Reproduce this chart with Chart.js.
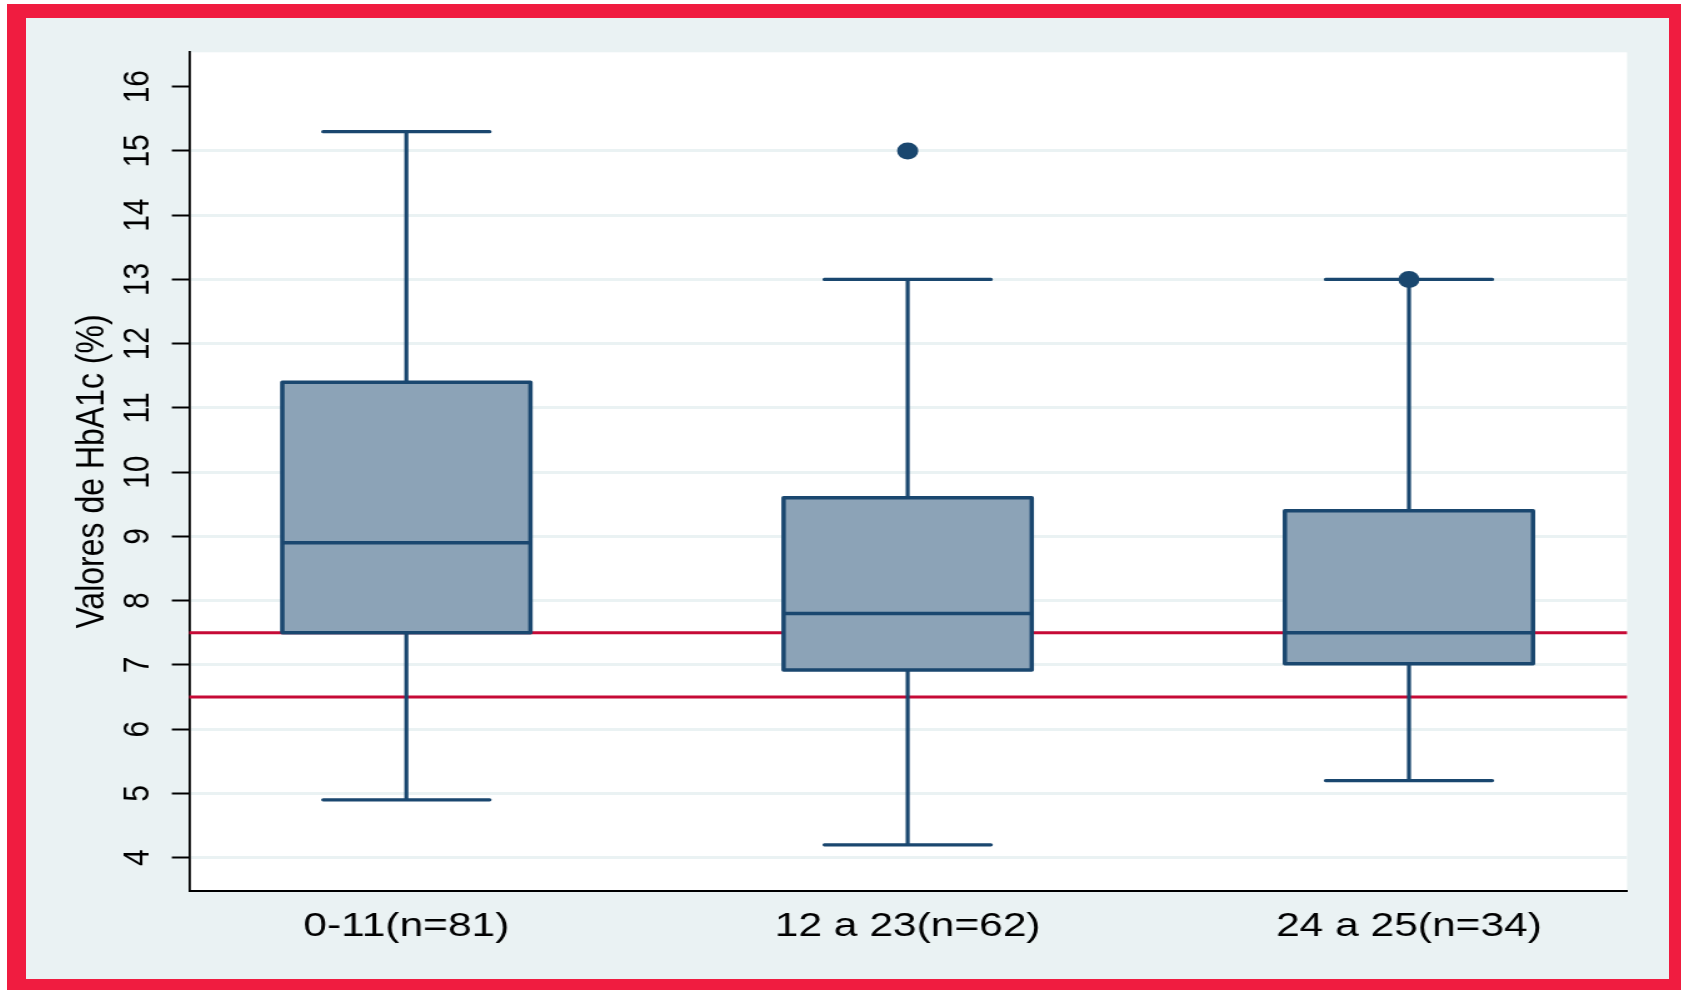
<!DOCTYPE html>
<html lang="pt">
<head>
<meta charset="utf-8">
<title>Valores de HbA1c por faixa</title>
<script src="https://cdn.jsdelivr.net/npm/chart.js@4.4.1/dist/chart.umd.min.js"></script>
<style>
  html, body { margin: 0; padding: 0; background: #fff; overflow: hidden; }
  .moldura {
    position: absolute; left: 7px; top: 4px;
    width: 1674px; height: 986px;
    box-sizing: border-box;
    border-style: solid; border-color: #f01c40;
    border-width: 14px 12px 11px 19px;
    background: #eaf2f3;
  }
  /* o gráfico original está esticado na horizontal */
  .grafico {
    position: absolute; left: 0; top: 0;
    width: 1314px; height: 961px;
    transform: scaleX(1.2504); transform-origin: 0 0;
  }
</style>
</head>
<body>
<div class="moldura">
  <div class="grafico"><canvas id="grafico-hba1c"></canvas></div>
</div>
<script>
// ===== DADOS =====
const categorias = ["0-11(n=81)", "12 a 23(n=62)", "24 a 25(n=34)"];
const minimos   = [4.9, 4.2, 5.2];
const quartil1  = [7.5, 6.92, 7.02];
const medianas  = [8.9, 7.8, 7.5];
const quartil3  = [11.4, 9.6, 9.4];
const maximos   = [15.3, 13.0, 13.0];
const atipicos  = [[], [15.0], [13.0]];
const linhasRef = [7.5, 6.5];
const ticksY    = [4, 5, 6, 7, 8, 9, 10, 11, 12, 13, 14, 15, 16];

// ===== CORES =====
const AZUL = "#1a476f";
const CAIXA = "#8ca3b7";
const VERMELHO = "#c60a36";
const GRADE = "#eaf2f3";
const MEIA_HASTE = 0.166; // metade da largura da haste do bigode (unidades do eixo x)

Chart.defaults.font.family = "'Liberation Sans', Arial, sans-serif";

// ===== PLUGIN: fundo, linhas de referência, bigodes, contorno e medianas =====
const boxplotPlugin = {
  id: "boxplot",
  beforeDraw(chart) {
    const { ctx, chartArea: a } = chart;
    ctx.save();
    ctx.fillStyle = "#fff";
    ctx.fillRect(a.left, a.top, a.right - a.left, a.bottom - a.top);
    ctx.restore();
  },
  beforeDatasetsDraw(chart) {
    const { ctx, chartArea: a, scales: { x, y } } = chart;
    ctx.save();
    ctx.strokeStyle = VERMELHO;
    ctx.lineWidth = 3;
    linhasRef.forEach(v => {
      const py = y.getPixelForValue(v);
      ctx.beginPath();
      ctx.moveTo(a.left, py);
      ctx.lineTo(a.right, py);
      ctx.stroke();
    });

    ctx.strokeStyle = AZUL;
    ctx.lineWidth = 3.2;
    categorias.forEach((c, i) => {
      const px = x.getPixelForValue(i + 1);
      ctx.lineCap = "butt";
      ctx.beginPath();
      ctx.moveTo(px, y.getPixelForValue(quartil3[i]));
      ctx.lineTo(px, y.getPixelForValue(maximos[i]));
      ctx.moveTo(px, y.getPixelForValue(quartil1[i]));
      ctx.lineTo(px, y.getPixelForValue(minimos[i]));
      ctx.stroke();

      const esq = x.getPixelForValue(i + 1 - MEIA_HASTE);
      const dir = x.getPixelForValue(i + 1 + MEIA_HASTE);
      ctx.lineCap = "round";
      ctx.beginPath();
      [maximos[i], minimos[i]].forEach(v => {
        const py = y.getPixelForValue(v);
        ctx.moveTo(esq, py);
        ctx.lineTo(dir, py);
      });
      ctx.stroke();
    });
    ctx.restore();
  },
  afterDatasetsDraw(chart) {
    const { ctx, scales: { y } } = chart;
    const meta = chart.getDatasetMeta(1);
    ctx.save();
    ctx.strokeStyle = AZUL;
    ctx.lineWidth = 3.5;
    ctx.lineJoin = "round";
    meta.data.forEach((barra, i) => {
      const { x, y: topo, base, width } = barra.getProps(["x", "y", "base", "width"], true);
      // contorno da caixa, centrado nos quartis
      ctx.strokeRect(x - width / 2, topo, width, base - topo);
      // mediana
      const py = y.getPixelForValue(medianas[i]);
      ctx.beginPath();
      ctx.moveTo(x - width / 2, py);
      ctx.lineTo(x + width / 2, py);
      ctx.stroke();
    });
    ctx.restore();
  }
};

// ===== GRÁFICO =====
new Chart(document.getElementById("grafico-hba1c"), {
  type: "bar",
  data: {
    datasets: [
      {
        type: "scatter",
        label: "Atípicos",
        data: atipicos.flatMap((vals, i) => vals.map(v => ({ x: i + 1, y: v }))),
        pointRadius: 8.5,
        pointBackgroundColor: AZUL,
        pointBorderColor: AZUL,
        pointBorderWidth: 0,
      },
      {
        type: "bar",
        label: "HbA1c",
        data: categorias.map((c, i) => ({ x: i + 1, y: [quartil1[i], quartil3[i]] })),
        backgroundColor: CAIXA,
        borderWidth: 0,
        barPercentage: 0.495,
        categoryPercentage: 1,
      },
    ],
  },
  options: {
    responsive: true,
    maintainAspectRatio: false,
    animation: false,
    layout: { padding: { top: 34.3, right: 33.6, left: 0, bottom: 0 } },
    plugins: {
      legend: { display: false },
      tooltip: { enabled: false },
    },
    scales: {
      x: {
        type: "linear",
        offset: false,
        min: 0.567,
        max: 3.435,
        grid: { display: false, drawTicks: false, offset: false },
        border: { display: true, color: "#000", width: 2 },
        afterBuildTicks: s => { s.ticks = categorias.map((c, i) => ({ value: i + 1 })); },
        afterFit: s => { s.height = 88.3; },
        ticks: {
          autoSkip: false,
          minRotation: 0,
          maxRotation: 0,
          padding: 16,
          color: "#000",
          font: { size: 34 },
          callback: v => categorias[v - 1],
        },
      },
      y: {
        min: 3.486,
        max: 16.535,
        afterBuildTicks: s => { s.ticks = ticksY.map(v => ({ value: v })); },
        afterFit: s => { s.width = 130.6; },
        grid: {
          color: c => (c.tick && c.tick.value === 16 ? "rgba(0,0,0,0)" : GRADE),
          lineWidth: 3,
          tickColor: "#000",
          tickLength: 14,
          tickWidth: 2,
        },
        border: { display: true, color: "#000", width: 1.8 },
        ticks: {
          minRotation: 90,
          maxRotation: 90,
          crossAlign: "center",
          padding: 10,
          color: "#000",
          font: { size: 30 },
        },
        title: {
          display: true,
          text: "Valores de HbA1c (%)",
          color: "#000",
          font: { size: 32 },
          padding: { top: 33.6, bottom: 0 },
        },
      },
    },
  },
  plugins: [boxplotPlugin],
});
</script>
</body>
</html>
